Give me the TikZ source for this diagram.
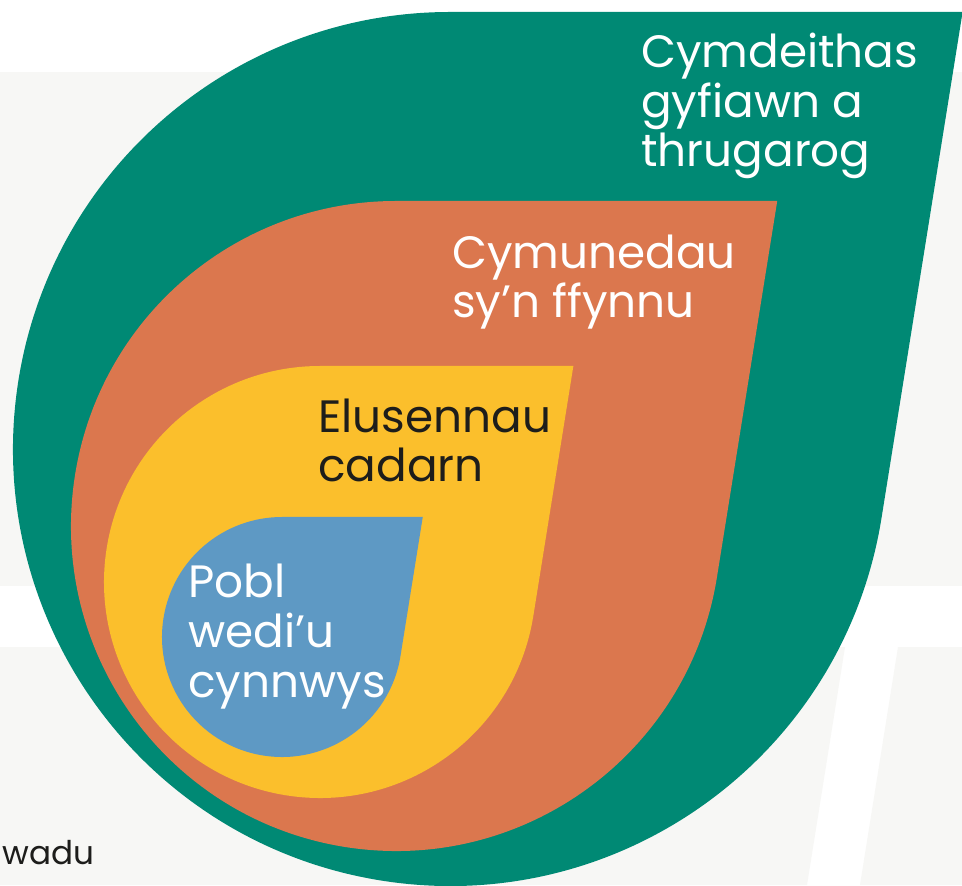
\documentclass[tikz,border=0pt]{standalone}
\usepackage{fontspec}
\setmainfont{Poppins}
\usetikzlibrary{calc}

\definecolor{society}{HTML}{008974}
\definecolor{community}{HTML}{DB774E}
\definecolor{charity}{HTML}{FBBF2C}
\definecolor{people}{HTML}{5E99C4}
\definecolor{panel}{HTML}{F7F7F5}
\definecolor{ink}{HTML}{1D1D1B}

% one drop: centre x, centre y, radius, colour
\newcommand{\drop}[4]{%
  \fill[#4] (#1,#2) ++(0,#3) -- ++({1.173*#3},0)
    -- ($(#1,#2)+(-9.1:#3)$) arc[start angle=-9.1, end angle=-270, radius=#3] -- cycle;}

\tikzset{
  big/.style={font=\fontsize{34}{37.2}\selectfont, inner sep=0, align=left, anchor=base west},
  small/.style={font=\fontsize{24.5}{28}\selectfont, inner sep=0, anchor=base west, text=ink}
}

\begin{document}
\begin{tikzpicture}[x=0.75pt, y=0.75pt]
    \useasboundingbox (0,0) rectangle (962,885);
    \clip (0,0) rectangle (962,885);
    \fill[white] (0,0) rectangle (962,885);
    \fill[panel] (0,299) rectangle (962,813);
    \fill[panel] (0,0) -- (807,0) -- (845,238) -- (0,238) -- cycle;
    \fill[panel] (860,0) -- (962,0) -- (962,238) -- (898,238) -- cycle;

    \drop{450}{436}{437}{society}
    \drop{396}{359}{325}{community}
    \drop{320}{303}{216}{charity}
    \drop{282}{248}{120}{people}

    % base anchor sits on the last line
    \path (641, 718) node [big, text=white] (cy) {Cymdeithas\\gyfiawn a\\thrugarog};
    \path (452, 567) node [big, text=white] (cm) {Cymunedau\\sy’n ffynnu};
    \path (318, 403) node [big, text=ink] (el) {Elusennau\\cadarn};
    \path (188, 188) node [big, text=white] (pb) {Pobl\\wedi’u\\cynnwys};
    \path (2, 21) node [small] (wd) {wadu};
\end{tikzpicture}
\end{document}
